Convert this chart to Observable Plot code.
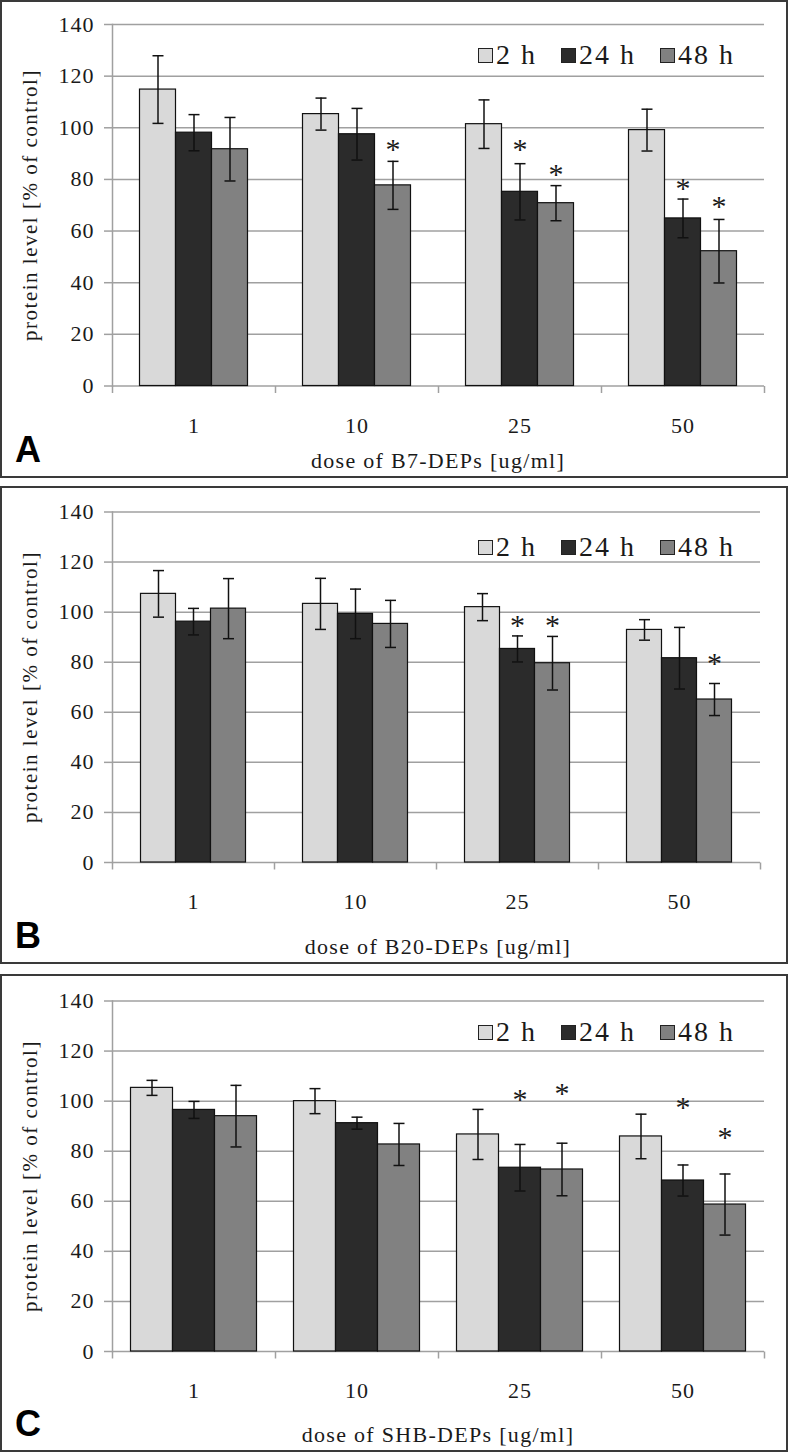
<!DOCTYPE html>
<html>
<head>
<meta charset="utf-8">
<script src="https://cdn.jsdelivr.net/npm/d3@7"></script>
<script src="https://cdn.jsdelivr.net/npm/@observablehq/plot@0.6"></script>
<style>
  html, body { margin: 0; padding: 0; background: #fff; }
  body { position: relative; width: 788px; height: 1453px; }
  .panel { position: absolute; left: 0; width: 788px; height: 478px; border: 2px solid #3a3a3a; box-sizing: border-box; background: #fff; }
  .panel svg { position: absolute; left: 0; top: 0; }
  .panel svg text { font-family: "Liberation Serif", "Times New Roman", "DejaVu Serif", serif; }
  .panel svg g[aria-label="y-axis tick label"] text, .panel svg g[aria-label="fx-axis tick label"] text { letter-spacing: 1px; }
  .ytitle { position: absolute; font-family: "Liberation Serif", "Times New Roman", serif; font-size: 21px; letter-spacing: 1.5px; white-space: nowrap; color: #1a1a1a; transform: translate(-50%, -50%) rotate(-90deg); }
  .xtitle { position: absolute; font-family: "Liberation Serif", "Times New Roman", serif; font-size: 22px; letter-spacing: 1.3px; white-space: nowrap; color: #1a1a1a; transform: translate(-50%, -50%); }
  .letter { position: absolute; font-family: "Liberation Sans", Arial, sans-serif; font-weight: bold; font-size: 36px; line-height: 36px; color: #000; }
  .legend { position: absolute; display: flex; align-items: center; transform: translateY(-50%); font-family: "Liberation Serif", "Times New Roman", serif; font-size: 28px; letter-spacing: 2px; color: #1a1a1a; line-height: 30px; }
  .legend .item { display: flex; align-items: center; margin-right: 24px; }
  .legend .item:last-child { margin-right: 0; }
  .legend .sw { width: 15px; height: 15px; border: 1.5px solid #222; box-sizing: border-box; margin-right: 3px; }
</style>
</head>
<body>
<script>
// ---------- data ----------
const doses = ["1", "10", "25", "50"];
const series = ["2 h", "24 h", "48 h"];
const colors = ["#d9d9d9", "#2b2b2b", "#818181"];
const panelLetters = ["A", "B", "C"];
const xTitles = ["dose of B7-DEPs [ug/ml]", "dose of B20-DEPs [ug/ml]", "dose of SHB-DEPs [ug/ml]"];
const yTitle = "protein level [% of control]";
const yTicks = [0, 20, 40, 60, 80, 100, 120, 140];

// panel A (B7-DEPs): one array per series, values for doses 1, 10, 25, 50
const meanA = [[114.8, 105.3, 101.4, 99.1], [98.1, 97.5, 75.2, 64.9], [91.7, 77.7, 70.8, 52.2]];
const errA  = [[13.1, 6.2, 9.4, 8.1], [7.0, 10.0, 10.9, 7.5], [12.3, 9.3, 6.8, 12.3]];
const starA = [[null, null, null, null], [null, null, 93.9, 78.8], [null, 93.9, 84.2, 71.8]];

// panel B (B20-DEPs)
const meanB = [[107.3, 103.3, 102.0, 92.9], [96.2, 99.3, 85.3, 81.6], [101.4, 95.3, 79.6, 65.1]];
const errB  = [[9.3, 10.2, 5.4, 4.1], [5.3, 9.9, 5.2, 12.3], [12.0, 9.4, 10.7, 6.4]];
const starB = [[null, null, null, null], [null, null, 97.3, null], [null, null, 97.3, 82.0]];

// panel C (SHB-DEPs)
const meanC = [[105.3, 100.0, 86.7, 85.9], [96.5, 91.2, 73.4, 68.3], [94.0, 82.7, 72.7, 58.7]];
const errC  = [[3.0, 5.0, 10.0, 8.9], [3.4, 2.4, 9.3, 6.2], [12.3, 8.4, 10.5, 12.2]];
const starC = [[null, null, null, null], [null, null, 102.9, 100.0], [null, null, 105.3, 88.0]];

const means = [meanA, meanB, meanC];
const errs = [errA, errB, errC];
const stars = [starA, starB, starC];

// ---------- layout ----------
const GRID = "#a0a0a0";
const INK = "#111";
const FONT = "'Liberation Serif', 'Times New Roman', 'DejaVu Serif', serif";
const panelTops = [0, 486, 974];
const layouts = [
  {mt: 22, mb: 90.5, mr: 21, pad: 0.73, legendY: 53, yMid: 203},
  {mt: 23.5, mb: 100, mr: 24, pad: 0.76, legendY: 59, yMid: 198.5},
  {mt: 24.5, mb: 99, mr: 20, pad: 0.415, legendY: 56, yMid: 199.75}
];

// custom symbols: downward tick at category boundaries, horizontal cap for error bars
const tickDown = {draw(ctx) { ctx.moveTo(0, 0); ctx.lineTo(0, 7); }};
const capLine = {draw(ctx) { ctx.moveTo(-5.5, 0); ctx.lineTo(5.5, 0); }};

panelLetters.forEach((letter, i) => {
  const L = layouts[i];
  const rows = [];
  doses.forEach((d, j) => series.forEach((s, k) => rows.push({
    dose: d, series: s, mean: means[i][k][j], err: errs[i][k][j], star: stars[i][k][j]
  })));

  const chart = Plot.plot({
    width: 784,
    height: 474,
    marginTop: L.mt,
    marginBottom: L.mb,
    marginLeft: 108.5,
    marginRight: L.mr,
    style: {fontFamily: FONT, fontSize: "22px", color: "#1a1a1a", background: "white", overflow: "visible"},
    fx: {domain: doses, padding: 0, label: null},
    x: {domain: series, paddingInner: 0, paddingOuter: L.pad, axis: null},
    y: {domain: [0, 140]},
    color: {domain: series, range: colors},
    marks: [
      Plot.gridY(yTicks, {stroke: GRID, strokeOpacity: 1, strokeWidth: 1.5}),
      Plot.axisY(yTicks, {tickSize: 8, tickPadding: 10, stroke: GRID, strokeWidth: 1.5, strokeOpacity: 1, fill: "#1a1a1a", fontSize: 22, fontFamily: FONT, label: null}),
      Plot.frame({anchor: "left", stroke: GRID, strokeWidth: 1.5, facetAnchor: "left"}),
      Plot.dot([0], {frameAnchor: "bottom-left", symbol: tickDown, stroke: GRID, strokeWidth: 1.5, fill: "none"}),
      Plot.dot([0], {frameAnchor: "bottom-right", facetAnchor: "right", symbol: tickDown, stroke: GRID, strokeWidth: 1.5, fill: "none"}),
      Plot.barY(rows, {fx: "dose", x: "series", y: "mean", fill: "series", stroke: INK, strokeWidth: 1.2}),
      Plot.ruleX(rows, {fx: "dose", x: "series", y1: d => d.mean - d.err, y2: d => d.mean + d.err, stroke: INK, strokeWidth: 1.5}),
      Plot.dot(rows, {fx: "dose", x: "series", y: d => d.mean + d.err, symbol: capLine, stroke: INK, strokeWidth: 1.5, fill: "none"}),
      Plot.dot(rows, {fx: "dose", x: "series", y: d => d.mean - d.err, symbol: capLine, stroke: INK, strokeWidth: 1.5, fill: "none"}),
      Plot.text(rows.filter(d => d.star != null), {fx: "dose", x: "series", y: "star", text: () => "*", fontSize: 30, fontFamily: FONT, fill: "#1a1a1a", dy: 6}),
      Plot.axisFx({anchor: "bottom", tickSize: 0, tickPadding: 31, fontSize: 22, fontFamily: FONT, fill: "#1a1a1a", label: null})
    ]
  });

  const panel = document.createElement("div");
  panel.className = "panel";
  panel.style.top = panelTops[i] + "px";
  panel.appendChild(chart);

  const yt = document.createElement("div");
  yt.className = "ytitle";
  yt.textContent = yTitle;
  yt.style.left = "28px";
  yt.style.top = L.yMid + "px";
  panel.appendChild(yt);

  const xt = document.createElement("div");
  xt.className = "xtitle";
  xt.textContent = xTitles[i];
  xt.style.left = "436px";
  xt.style.top = "459px";
  panel.appendChild(xt);

  const lt = document.createElement("div");
  lt.className = "letter";
  lt.textContent = letter;
  lt.style.left = "13px";
  lt.style.top = "430px";
  panel.appendChild(lt);

  const lg = document.createElement("div");
  lg.className = "legend";
  lg.style.left = "476px";
  lg.style.top = L.legendY + "px";
  series.forEach((s, k) => {
    const it = document.createElement("div");
    it.className = "item";
    const sw = document.createElement("div");
    sw.className = "sw";
    sw.style.background = colors[k];
    const tx = document.createElement("span");
    tx.textContent = s;
    it.appendChild(sw);
    it.appendChild(tx);
    lg.appendChild(it);
  });
  panel.appendChild(lg);

  document.body.appendChild(panel);
});
</script>
</body>
</html>
